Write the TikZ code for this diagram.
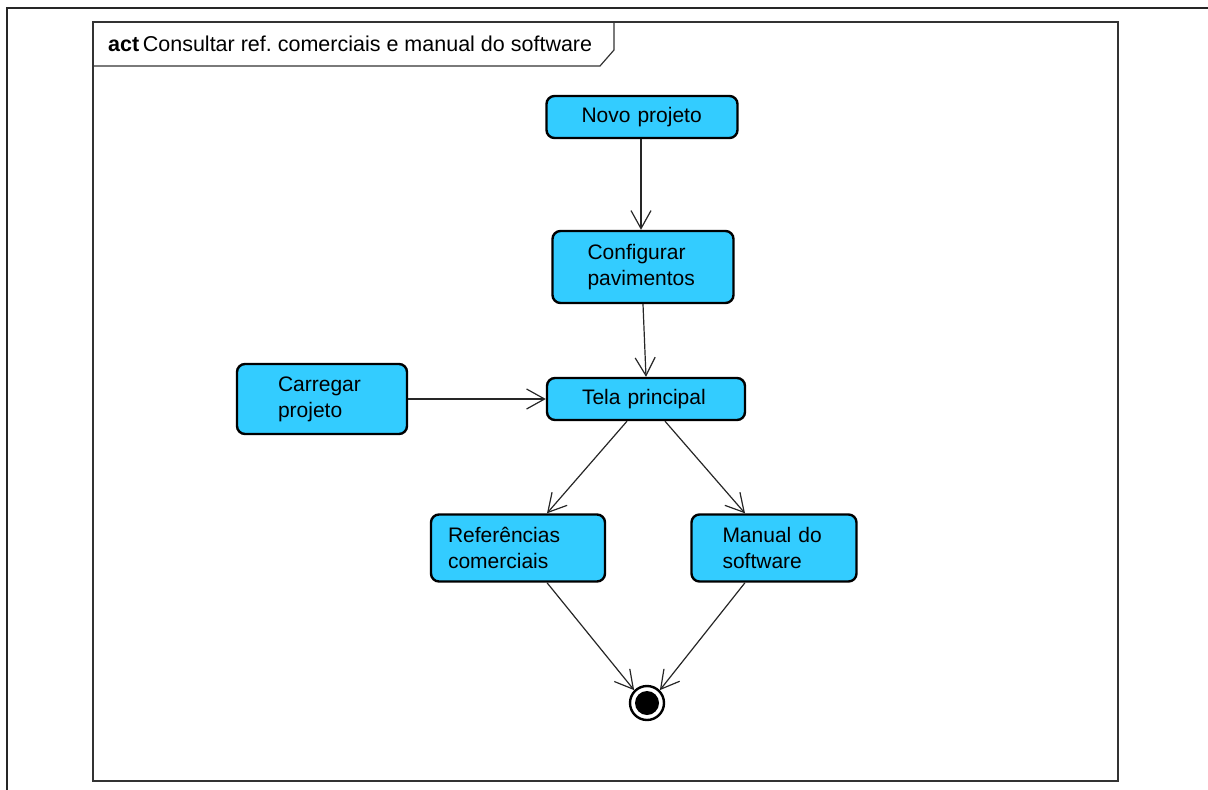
\documentclass[tikz,border=0pt]{standalone}
\usepackage{fontspec}
\setmainfont{Liberation Sans}
\usetikzlibrary{arrows.meta}
\frenchspacing
\definecolor{actfill}{HTML}{33CCFF}
\definecolor{framegray}{HTML}{333333}
\tikzset{
  act/.style={draw=black, line width=2.4pt, fill=actfill, rounded corners=8pt, align=left,
    font=\fontsize{21}{26}\selectfont, inner sep=0pt},
  pad/.style={execute at begin node={\leftskip=#1\relax}},
  flow/.style={draw=black!85, line width=1.2pt, -{Straight Barb[length=18pt,width=20pt,line width=1.2pt]}},
}
\begin{document}
\begin{tikzpicture}[x=1pt,y=-1pt]
\useasboundingbox (0,0) rectangle (1208,790);
% outer borders
\draw[line width=2.6pt, black!85] (6,8) -- (1208,8);
\draw[line width=2.6pt, black!85] (7,8) -- (7,790);
% frame
\draw[line width=1.5pt, framegray] (93,22) rectangle (1118,781);
\draw[line width=1.2pt, framegray] (93,66) -- (600,66) -- (614,50) -- (614,22);
\node[anchor=west, font=\fontsize{21.5}{25}\selectfont, inner sep=0pt] (title) at (108,44) {\textbf{act}\,Consultar ref. comerciais e manual do software};
% nodes
\node[act, pad=35pt, text width=191pt, minimum height=42pt] (novo) at (642,117) {Novo projeto};
\node[act, pad=35pt, text width=181pt, minimum height=72pt] (config) at (643,267) {Configurar\\pavimentos};
\node[act, pad=35pt, text width=198pt, minimum height=42pt] (tela) at (646,399) {Tela principal};
\node[act, pad=41pt, text width=170pt, minimum height=70pt] (carr) at (322,399) {Carregar\\projeto};
\node[act, pad=17pt, text width=174pt, minimum height=67pt] (ref) at (518,548) {Referências\\comerciais};
\node[act, pad=31pt, text width=165pt, minimum height=67pt] (man) at (774,548) {Manual do\\software};
% final node
\node[circle, draw=black, line width=2.4pt, fill=white, minimum size=34pt, inner sep=0pt] (fim) at (647,703) {};
\fill[black] (fim.center) circle (12pt);
% connectors
\draw[flow] (novo.south -| 641,0) -- (config.north -| 641,0);
\draw[flow] (config.south) -- (tela.north);
\draw[flow] (carr.east) -- (tela.west);
\draw[flow] (tela.south -| 627,0) -- (ref.north -| 547,0);
\draw[flow] (tela.south -| 665,0) -- (man.north -| 745,0);
\draw[flow] (ref.south -| 547,0) -- (fim.north west);
\draw[flow] (man.south -| 745,0) -- (fim.north east);
\end{tikzpicture}
\end{document}
